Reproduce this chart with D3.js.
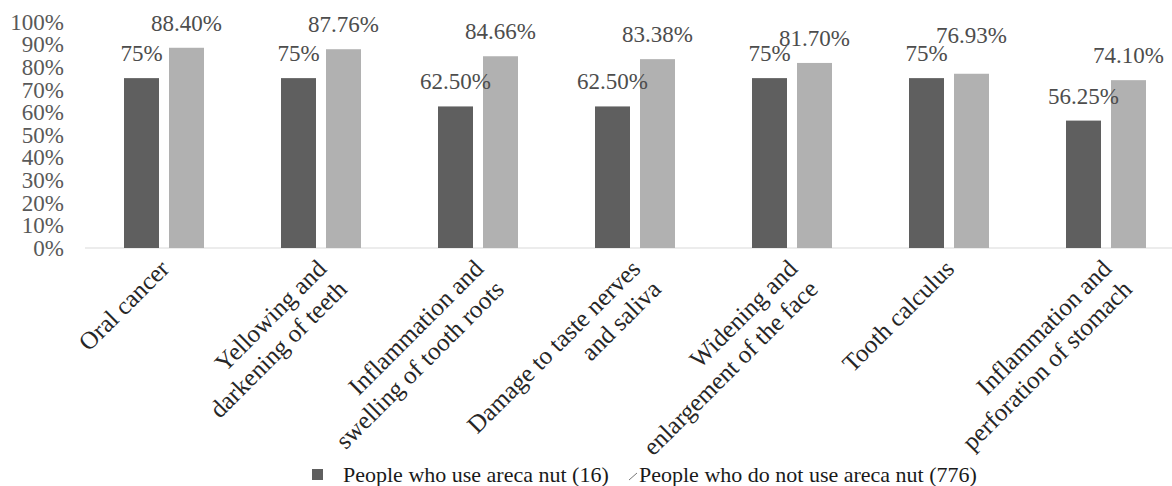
<!DOCTYPE html>
<html>
<head>
<meta charset="utf-8">
<script src="https://cdn.jsdelivr.net/npm/d3@7"></script>
<style>
  body { margin: 0; background: #fff; }
  svg text { font-family: "Liberation Serif", "Times New Roman", serif; }
</style>
</head>
<body>
<div id="chart"></div>
<script>
// categories (each label split into its lines)
const categories = [
  ["Oral cancer"],
  ["Yellowing and", "darkening of teeth"],
  ["Inflammation and", "swelling of tooth roots"],
  ["Damage to taste nerves", "and saliva"],
  ["Widening and", "enlargement of the face"],
  ["Tooth calculus"],
  ["Inflammation and", "perforation of stomach"]
];
const series = ["People who use areca nut (16)", "People who do not use areca nut (776)"];
const users = [75, 75, 62.5, 62.5, 75, 75, 56.25];
const userLabels = ["75%", "75%", "62.50%", "62.50%", "75%", "75%", "56.25%"];
const nonUsers = [88.40, 87.76, 84.66, 83.38, 81.70, 76.93, 74.10];
const nonUserLabels = ["88.40%", "87.76%", "84.66%", "83.38%", "81.70%", "76.93%", "74.10%"];
const yTicks = [0, 10, 20, 30, 40, 50, 60, 70, 80, 90, 100];

const width = 1172, height = 486;
const colors = ["#5f5f5f", "#b1b1b1"];

const svg = d3.select("#chart").append("svg")
  .attr("width", width)
  .attr("height", height);

const keys = categories.map(d => d.join(" "));

// the plot runs a little past the right edge, like the reference
const x0 = d3.scaleBand().domain(keys).range([85, 1184]);
const x1 = d3.scaleBand().domain(series).range([39, 119]).paddingInner(2 / 9);
const y = d3.scaleLinear().domain([0, 100]).range([248, 21.5]);

// y axis labels
svg.append("g")
  .selectAll("text")
  .data(yTicks)
  .enter()
  .append("text")
    .attr("x", 64)
    .attr("y", d => y(d))
    .attr("dy", "0.35em")
    .attr("text-anchor", "end")
    .attr("fill", "#595959")
    .style("font-size", "23px")
    .text(d => d + "%");

// baseline
svg.append("line")
  .attr("x1", 85).attr("x2", 1184)
  .attr("y1", y(0)).attr("y2", y(0))
  .attr("stroke", "#d9d9d9")
  .attr("stroke-width", 1.2);

const rows = keys.map((k, i) => ({
  key: k,
  vals: [
    {s: series[0], v: users[i], label: userLabels[i]},
    {s: series[1], v: nonUsers[i], label: nonUserLabels[i]}
  ]
}));

// label baseline above each bar; push the light one up when it would sit on the dark one
function labelY(d, i, all) {
  const base = y(d.v) - 17;
  if (i === 1) {
    const other = y(all[0].v) - 17;
    if (other - base < 14) return other - 18;
  }
  return base;
}

const group = svg.append("g")
  .selectAll("g")
  .data(rows)
  .enter()
  .append("g")
    .attr("transform", d => "translate(" + x0(d.key) + ",0)");

group.selectAll("rect")
  .data(d => d.vals)
  .enter()
  .append("rect")
    .attr("x", d => x1(d.s))
    .attr("width", x1.bandwidth())
    .attr("y", d => y(d.v))
    .attr("height", d => y(0) - y(d.v))
    .attr("fill", (d, i) => colors[i]);

group.selectAll("text")
  .data(d => d.vals)
  .enter()
  .append("text")
    .attr("x", d => x1(d.s) + x1.bandwidth() / 2)
    .attr("y", function(d, i) { return labelY(d, i, d3.select(this.parentNode).datum().vals); })
    .attr("text-anchor", "middle")
    .attr("fill", "#4d4d4d")
    .style("font-size", "23px")
    .text(d => d.label);

// rotated category labels, lines right aligned
const fs = 25, lh = 29;
const labels = svg.append("g")
  .selectAll("g")
  .data(categories)
  .enter()
  .append("g")
    .attr("transform", (d, i) => "translate(" + (x0(keys[i]) + x0.bandwidth() / 2 - 6) + ",257) rotate(-45)");

labels.selectAll("text")
  .data(d => d)
  .enter()
  .append("text")
    .attr("text-anchor", "end")
    .attr("x", 0)
    .attr("y", (d, j) => fs * 0.75 + j * lh)
    .attr("fill", "#262626")
    .style("font-size", fs + "px")
    .text(d => d);

// legend
const legend = svg.append("g").style("font-size", "22px");
legend.append("rect")
  .attr("x", 312).attr("y", 469)
  .attr("width", 11).attr("height", 11)
  .attr("fill", colors[0]);
legend.append("text")
  .attr("x", 343).attr("y", 482)
  .attr("fill", "#1a1a1a")
  .text(series[0]);
legend.append("line")
  .attr("x1", 629).attr("y1", 480)
  .attr("x2", 637).attr("y2", 473)
  .attr("stroke", "#777").attr("stroke-width", 1);
legend.append("text")
  .attr("x", 639).attr("y", 482)
  .attr("fill", "#1a1a1a")
  .text(series[1]);
</script>
</body>
</html>
